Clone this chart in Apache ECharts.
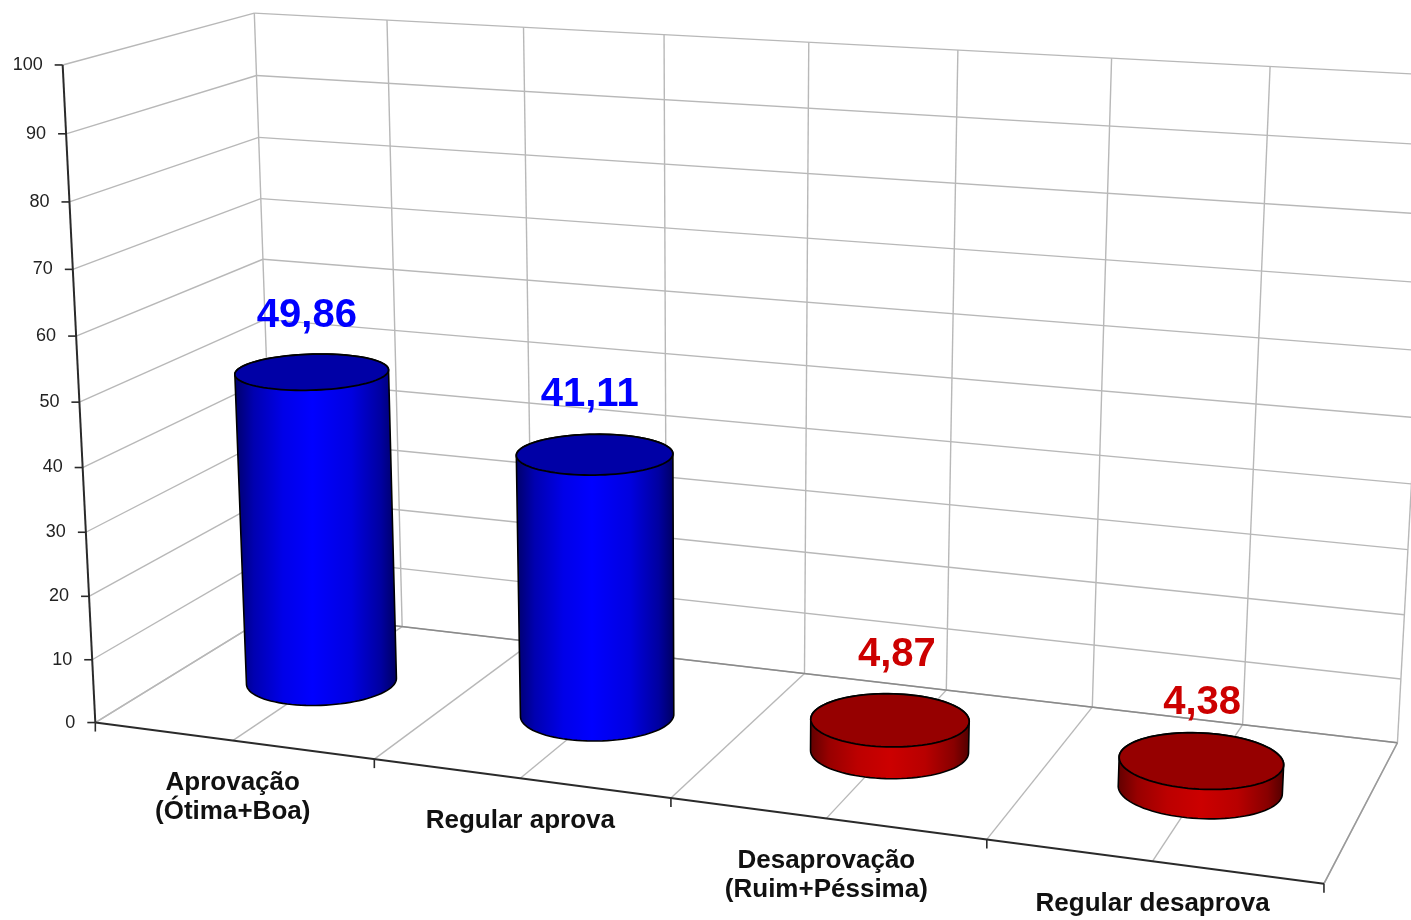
<!DOCTYPE html>
<html><head><meta charset="utf-8">
<style>html,body{margin:0;padding:0;background:#fff}#c{width:1411px;height:920px;filter:blur(0.7px)}</style>
<script src="https://cdn.jsdelivr.net/npm/echarts@6/dist/echarts.min.js"></script>
</head><body><div id="c"></div>
<script>
// ---- data
const categories = ['Aprovação\n(Ótima+Boa)', 'Regular aprova', 'Desaprovação\n(Ruim+Péssima)', 'Regular desaprova'];
const values = [49.86, 41.11, 4.87, 4.38];
const valueLabels = ['49,86', '41,11', '4,87', '4,38'];
const tones = ['blue', 'blue', 'red', 'red'];
const yTicks = [0, 10, 20, 30, 40, 50, 60, 70, 80, 90, 100];

// ---- view: camera calibration of the 3D box [u(0-1), v(0-1), depth(0-1)] -> page
const calibration = [
  [0,0,0,97,722],[.25,0,0,375,759],[.5,0,0,671,798],[.75,0,0,987,840],[1,0,0,1323,885],
  [0,1,0,62,65],[0,.6,0,75,335],
  [0,0,1,274,613],[.5,0,1,804,673],[1,0,1,1398,742],
  [0,1,1,254,14],[0,.6,1,263,258],[.25,1,1,525,28],[.5,1,1,809,43],[.75,1,1,1112,58],[1,1,1,1433,74]
];
function solveCamera(pts) {
  const n = 11, A = Array.from({length:n}, () => new Array(n+1).fill(0));
  const add = (r, b) => { for (let i=0;i<n;i++){ for (let j=0;j<n;j++) A[i][j]+=r[i]*r[j]; A[i][n]+=r[i]*b; } };
  pts.forEach(([x,y,z,X0,Y0]) => {
    const X=X0/1000, Y=Y0/1000;
    add([x,y,z,1,0,0,0,0,-X*x,-X*y,-X*z], X);
    add([0,0,0,0,x,y,z,1,-Y*x,-Y*y,-Y*z], Y);
  });
  for (let c=0;c<n;c++){
    let p=c; for (let r=c+1;r<n;r++) if (Math.abs(A[r][c])>Math.abs(A[p][c])) p=r;
    [A[c],A[p]]=[A[p],A[c]];
    for (let r=0;r<n;r++) if (r!==c){ const f=A[r][c]/A[c][c]; for (let k=c;k<=n;k++) A[r][k]-=f*A[c][k]; }
  }
  return A.map((row,i)=>row[n]/row[i]);
}
const cam = solveCamera(calibration);
function project(u,v,z){
  const w = cam[8]*u+cam[9]*v+cam[10]*z+1;
  return [1000*(cam[0]*u+cam[1]*v+cam[2]*z+cam[3])/w, 1000*(cam[4]*u+cam[5]*v+cam[6]*z+cam[7])/w];
}
const radiusU = 0.0625, radiusZ = 0.2, barDepth = 0.5;
const gridColor = '#b8b8b8', axisColor = '#2a2a2a';
const font = 'Liberation Sans, Arial, sans-serif';
const labelShift = [[-5,-56],[-5,-59],[7,-65],[1,-57]];
const palette = {
  blue: {text:'#0000ff', top:'#0000a6', stops:[[0,'#000068'],[.12,'#0000b0'],[.3,'#0000e8'],[.48,'#0000ff'],[.72,'#0000e0'],[.9,'#0000a0'],[1,'#000060']]},
  red:  {text:'#cc0000', top:'#960000', stops:[[0,'#600000'],[.12,'#980000'],[.3,'#bc0000'],[.5,'#cc0000'],[.72,'#b80000'],[.9,'#880000'],[1,'#500000']]}
};

function uvOf(params, api, cat, val){
  const s = params.coordSys, p = api.coord([cat, val]);
  return [(p[0]-s.x)/s.width, (s.y+s.height-p[1])/s.height];
}
const line = (a,b,color,width) => ({type:'line', shape:{x1:a[0],y1:a[1],x2:b[0],y2:b[1]}, style:{stroke:color,lineWidth:width,fill:null}});
function hull(pts){
  const P=pts.slice().sort((a,b)=>a[0]-b[0]||a[1]-b[1]);
  const cr=(o,a,b)=>(a[0]-o[0])*(b[1]-o[1])-(a[1]-o[1])*(b[0]-o[0]);
  const lo=[],up=[];
  P.forEach(p=>{while(lo.length>1&&cr(lo[lo.length-2],lo[lo.length-1],p)<=0)lo.pop();lo.push(p);});
  P.slice().reverse().forEach(p=>{while(up.length>1&&cr(up[up.length-2],up[up.length-1],p)<=0)up.pop();up.push(p);});
  return lo.slice(0,-1).concat(up.slice(0,-1));
}

// value grid lines, left axis ticks and labels
function renderValueTick(params, api){
  const v = uvOf(params, api, 0, api.value(0))[1];
  const a = project(0,v,0), b = project(0,v,1), c = project(1,v,1);
  return {type:'group', children:[
    line(a,b,gridColor,1.4), line(b,c,gridColor,1.4),
    line([a[0]-8,a[1]],a,axisColor,1.6),
    {type:'text', style:{x:a[0]-20,y:a[1],text:String(api.value(0)),fill:'#222',font:'18px '+font,align:'right',verticalAlign:'middle'}}
  ]};
}
// floor and wall lines at each half category
function renderDepthLine(params, api){
  const u = api.value(0);
  const a = project(u,0,0), b = project(u,0,1), c = project(u,1,1);
  const kids = [line(b,c,gridColor,1.4)];
  if (u>0) kids.push(line(a,b,gridColor,1.4));
  return {type:'group', children:kids};
}
// frame: back floor edge, side edges, axes
function renderFrame(params, api){
  const O=project(0,0,0),R=project(1,0,0),T=project(0,1,0),B=project(1,0,1),L=project(0,0,1);
  const kids=[line(L,B,'#8a8a8a',1.6), line(O,L,gridColor,1.4), line(R,B,'#9a9a9a',1.5),
    line(O,R,axisColor,2), line(O,T,axisColor,2)];
  [0,.25,.5,.75,1].forEach(u=>{const p=project(u,0,0);kids.push(line(p,[p[0],p[1]+9],axisColor,1.6));});
  return {type:'group',children:kids};
}
function renderCylinder(params, api){
  const i = api.value(0), val = api.value(1);
  const [uc, vt] = uvOf(params, api, i, val);
  const pal = palette[tones[i]];
  const top=[], bot=[];
  for (let k=0;k<96;k++){
    const t=k/96*2*Math.PI, u=uc+radiusU*Math.cos(t), z=barDepth+radiusZ*Math.sin(t);
    top.push(project(u,vt,z)); bot.push(project(u,0,z));
  }
  const side = hull(top.concat(bot));
  const head = project(uc,vt,barDepth);
  const label = [head[0]+labelShift[i][0], head[1]+labelShift[i][1]];
  return {type:'group', children:[
    {type:'polygon', shape:{points:side}, style:{fill:{type:'linear',x:0,y:0,x2:1,y2:0,colorStops:pal.stops.map(s=>({offset:s[0],color:s[1]}))},stroke:'#000',lineWidth:1.6}},
    {type:'polygon', shape:{points:top}, style:{fill:pal.top,stroke:'#000',lineWidth:1.8}},
    {type:'text', style:{x:label[0],y:label[1],text:valueLabels[i],fill:pal.text,font:'bold 40px '+font,align:'center',verticalAlign:'middle'}}
  ]};
}
function renderCategory(params, api){
  const i = api.value(0);
  const u = uvOf(params, api, i, 0)[0];
  const p = project(u,0,0);
  return {type:'text', style:{x:p[0],y:p[1]+28,text:categories[i],fill:'#111',font:'bold 26px '+font,lineHeight:29,align:'center',verticalAlign:'top'}};
}
const halfSteps = [0,1,2,3,4,5,6,7,8].map(k=>[k/8]);
const chart = echarts.init(document.getElementById('c'));
chart.setOption({
  animation:false, backgroundColor:'#fff',
  grid:{left:100,right:100,top:100,bottom:100},
  xAxis:{type:'category',data:categories,show:false},
  yAxis:{type:'value',min:0,max:100,interval:10,show:false},
  series:[
    {type:'custom',silent:true,clip:false,data:halfSteps,renderItem:renderDepthLine,encode:{x:[],y:[]},z:1},
    {type:'custom',silent:true,clip:false,data:yTicks.map(t=>[t]),renderItem:renderValueTick,encode:{x:[],y:0},z:1},
    {type:'custom',silent:true,clip:false,data:[[0]],renderItem:renderFrame,encode:{x:[],y:[]},z:2},
    {type:'custom',clip:false,data:values.map((v,i)=>[i,v]),renderItem:renderCylinder,encode:{x:0,y:1},z:3},
    {type:'custom',silent:true,clip:false,data:categories.map((c,i)=>[i]),renderItem:renderCategory,encode:{x:0,y:[]},z:4}
  ]
});
</script></body></html>
